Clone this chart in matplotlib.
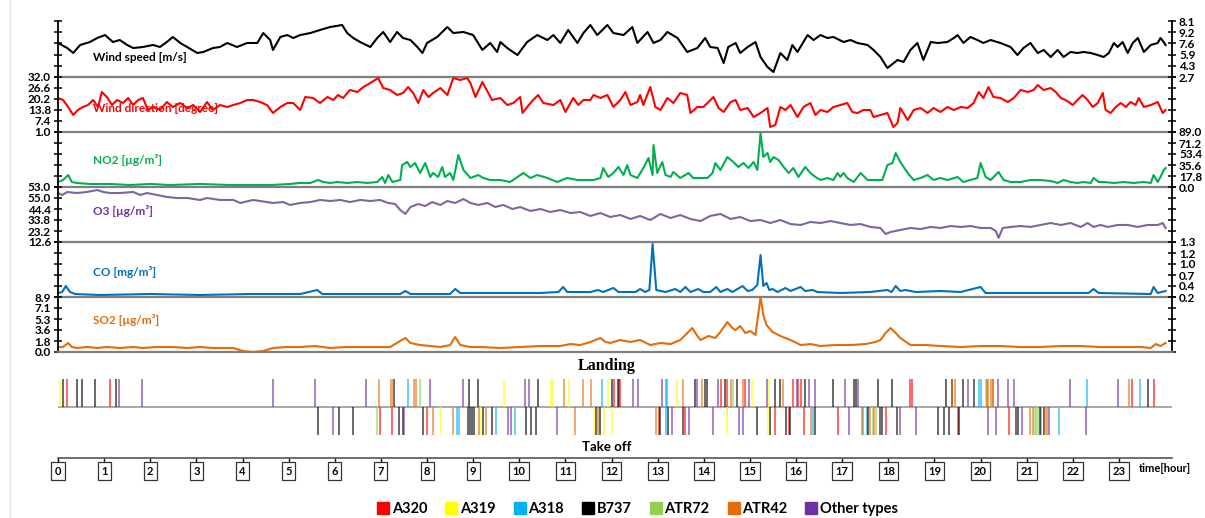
import numpy as np
import matplotlib.pyplot as plt
from matplotlib.lines import Line2D

plt.rcParams['font.family'] = ['Lato', 'DejaVu Sans']

# ---- time series (time in hours) ----
ws_time = [0.00, 0.20, 0.33, 0.48, 0.69, 0.85, 1.02, 1.19, 1.34, 1.50,
           1.63, 1.84, 2.06, 2.21, 2.36, 2.49, 2.65, 2.80, 3.02, 3.15,
           3.36, 3.51, 3.67, 3.88, 4.10, 4.32, 4.45, 4.60, 4.66, 4.82,
           4.97, 5.10, 5.25, 5.47, 5.68, 5.90, 6.16, 6.27, 6.40, 6.55,
           6.77, 6.92, 7.05, 7.20, 7.35, 7.48, 7.64, 7.79, 7.90, 8.00,
           8.22, 8.44, 8.57, 8.79, 9.00, 9.20, 9.37, 9.52, 9.59, 9.74,
           9.96, 10.17, 10.39, 10.61, 10.74, 10.89, 11.06, 11.26, 11.39, 11.54,
           11.69, 11.91, 12.04, 12.26, 12.45, 12.56, 12.78, 12.91, 13.06, 13.21,
           13.43, 13.64, 13.86, 14.03, 14.14, 14.30, 14.43, 14.53, 14.69, 14.79,
           14.95, 15.12, 15.23, 15.38, 15.51, 15.66, 15.81, 15.92, 16.03, 16.25,
           16.38, 16.53, 16.68, 16.81, 17.03, 17.18, 17.33, 17.55, 17.68, 17.83,
           17.98, 18.20, 18.33, 18.48, 18.63, 18.76, 18.92, 19.07, 19.28, 19.42,
           19.50, 19.63, 19.78, 19.93, 20.06, 20.22, 20.43, 20.65, 20.80, 20.93,
           21.08, 21.24, 21.37, 21.52, 21.67, 21.80, 21.95, 22.10, 22.23, 22.39,
           22.54, 22.67, 22.78, 22.89, 22.97, 23.08, 23.19, 23.30, 23.41, 23.54,
           23.69, 23.84, 23.90, 23.97, 24.01]
ws_val = [7.62, 6.89, 6.17, 7.33, 7.76, 8.34, 8.77, 7.76, 8.05, 7.33,
          6.89, 7.04, 7.33, 7.04, 7.76, 8.49, 7.62, 7.04, 6.17, 6.32,
          6.89, 7.04, 7.62, 7.04, 7.62, 7.62, 9.06, 8.05, 6.61, 8.49,
          8.77, 8.34, 8.77, 9.06, 9.50, 9.93, 10.22, 9.06, 8.34, 7.76,
          7.04, 8.34, 9.21, 7.76, 9.21, 8.34, 8.05, 7.04, 6.17, 7.62,
          8.49, 9.93, 9.06, 9.21, 8.77, 6.61, 7.62, 6.32, 7.76, 6.89,
          5.88, 7.76, 8.77, 8.05, 8.77, 7.62, 9.50, 7.62, 9.06, 10.22,
          8.77, 10.22, 9.06, 8.77, 9.93, 7.62, 9.21, 7.62, 8.05, 9.21,
          8.34, 6.32, 6.89, 8.34, 7.04, 6.89, 4.72, 7.04, 7.62, 6.17,
          7.04, 7.76, 5.59, 4.15, 3.42, 6.17, 5.16, 7.33, 6.32, 8.77,
          8.05, 8.77, 8.34, 8.49, 7.76, 8.05, 7.62, 7.33, 6.61, 5.59,
          4.00, 5.16, 4.87, 6.61, 7.62, 5.16, 7.76, 7.62, 7.76, 8.34,
          8.77, 7.62, 8.49, 8.05, 7.62, 8.05, 7.62, 7.04, 5.88, 6.89,
          7.62, 6.17, 6.61, 5.59, 6.61, 5.59, 6.32, 6.17, 6.32, 6.17,
          5.88, 5.59, 6.17, 7.62, 7.04, 7.76, 6.17, 7.62, 8.34, 6.32,
          7.33, 7.62, 8.34, 7.76, 7.33]

wd_time = [0.00, 0.11, 0.22, 0.33, 0.43, 0.54, 0.65, 0.76, 0.87, 0.95,
           1.06, 1.17, 1.28, 1.41, 1.52, 1.63, 1.74, 1.84, 1.95, 2.06,
           2.21, 2.36, 2.49, 2.65, 2.80, 2.93, 3.08, 3.23, 3.36, 3.51,
           3.67, 3.80, 3.95, 4.10, 4.23, 4.38, 4.53, 4.66, 4.82, 4.97,
           5.10, 5.25, 5.36, 5.53, 5.68, 5.84, 5.97, 6.07, 6.18, 6.33,
           6.49, 6.62, 6.77, 6.94, 7.05, 7.20, 7.35, 7.48, 7.59, 7.70,
           7.81, 7.92, 8.03, 8.13, 8.29, 8.44, 8.57, 8.72, 8.87, 8.94,
           9.05, 9.20, 9.33, 9.41, 9.59, 9.74, 9.87, 10.02, 10.07, 10.17,
           10.30, 10.41, 10.52, 10.74, 10.89, 11.00, 11.11, 11.17, 11.28, 11.39,
           11.54, 11.61, 11.76, 11.91, 12.04, 12.19, 12.30, 12.41, 12.56, 12.62,
           12.69, 12.84, 12.95, 13.06, 13.21, 13.34, 13.49, 13.64, 13.71, 13.86,
           13.99, 14.08, 14.21, 14.32, 14.43, 14.58, 14.69, 14.79, 14.95, 15.08,
           15.23, 15.38, 15.44, 15.55, 15.66, 15.77, 15.88, 16.03, 16.16, 16.31,
           16.42, 16.53, 16.68, 16.81, 16.96, 17.11, 17.22, 17.33, 17.46, 17.61,
           17.68, 17.83, 17.98, 18.11, 18.20, 18.26, 18.42, 18.55, 18.70, 18.85,
           18.98, 19.13, 19.28, 19.42, 19.57, 19.72, 19.85, 19.96, 20.06, 20.17,
           20.28, 20.43, 20.59, 20.72, 20.87, 21.02, 21.15, 21.24, 21.37, 21.52,
           21.63, 21.74, 21.84, 21.91, 22.00, 22.10, 22.21, 22.32, 22.43, 22.54,
           22.65, 22.71, 22.82, 22.93, 23.04, 23.15, 23.25, 23.36, 23.43, 23.54,
           23.69, 23.84, 23.95, 24.01]
wd_val = [20.78, 19.62, 15.55, 10.89, 13.80, 15.55, 16.71, 19.62, 15.55, 24.27,
          21.36, 16.71, 19.62, 17.87, 20.78, 16.71, 19.62, 20.78, 13.80, 15.55,
          13.80, 18.45, 15.55, 17.87, 14.96, 16.71, 12.64, 18.45, 13.80, 16.71,
          15.55, 16.71, 17.87, 19.62, 19.62, 18.45, 16.71, 12.05, 15.55, 17.87,
          17.87, 13.80, 21.36, 20.78, 17.87, 21.36, 19.62, 22.53, 20.78, 25.44,
          24.27, 27.18, 29.51, 32.42, 26.60, 25.44, 22.53, 23.69, 27.18, 23.69,
          17.87, 25.44, 21.36, 23.69, 26.60, 22.53, 32.42, 31.25, 32.42, 29.51,
          21.36, 30.09, 23.69, 19.62, 20.78, 16.71, 17.87, 21.36, 12.05, 15.55,
          19.62, 22.53, 17.87, 16.71, 19.62, 12.64, 17.87, 20.78, 16.71, 19.62,
          19.62, 22.53, 20.78, 22.53, 15.55, 19.62, 24.27, 16.71, 18.45, 22.53,
          16.71, 27.18, 15.55, 13.80, 20.78, 17.87, 23.69, 22.53, 12.05, 15.55,
          15.55, 17.87, 21.36, 14.96, 12.64, 18.45, 19.62, 13.80, 14.96, 9.73,
          12.05, 14.96, 3.91, 5.07, 15.55, 13.80, 16.71, 9.73, 15.55, 17.87,
          10.89, 13.80, 12.64, 15.55, 16.71, 17.87, 12.64, 12.05, 13.80, 13.80,
          9.73, 10.89, 12.05, 3.91, 6.24, 14.96, 7.98, 13.80, 14.96, 12.05,
          14.96, 12.64, 15.55, 13.80, 15.55, 14.96, 17.87, 24.27, 20.78, 27.18,
          21.36, 20.78, 18.45, 20.78, 25.44, 24.27, 25.44, 28.35, 25.44, 26.60,
          24.27, 20.78, 19.62, 18.45, 16.71, 19.62, 22.53, 19.62, 15.55, 17.87,
          23.69, 13.80, 12.05, 15.55, 17.87, 15.55, 18.45, 16.71, 20.78, 15.55,
          16.71, 18.45, 12.05, 13.80]

no2_time = [0.00, 0.11, 0.22, 0.30, 0.41, 0.69, 1.13, 1.56, 2.00, 2.43,
            3.08, 3.73, 4.16, 4.60, 5.03, 5.25, 5.47, 5.64, 5.75, 5.90,
            6.05, 6.27, 6.49, 6.70, 6.92, 7.03, 7.09, 7.16, 7.25, 7.42,
            7.46, 7.57, 7.64, 7.74, 7.85, 7.96, 8.07, 8.13, 8.24, 8.33,
            8.39, 8.50, 8.57, 8.68, 8.79, 8.94, 9.11, 9.22, 9.37, 9.59,
            9.80, 9.96, 10.09, 10.24, 10.39, 10.61, 10.82, 11.04, 11.26, 11.48,
            11.61, 11.76, 11.82, 11.93, 12.04, 12.15, 12.26, 12.34, 12.41, 12.56,
            12.69, 12.80, 12.89, 12.91, 12.99, 13.10, 13.17, 13.28, 13.34, 13.49,
            13.67, 13.77, 13.93, 14.08, 14.19, 14.25, 14.36, 14.51, 14.64, 14.75,
            14.86, 14.97, 15.08, 15.16, 15.23, 15.29, 15.38, 15.44, 15.51, 15.62,
            15.73, 15.84, 15.94, 16.05, 16.20, 16.31, 16.42, 16.53, 16.68, 16.81,
            16.90, 16.96, 17.03, 17.11, 17.25, 17.40, 17.55, 17.68, 17.87, 17.98,
            18.09, 18.16, 18.26, 18.42, 18.55, 18.70, 18.85, 18.98, 19.13, 19.28,
            19.50, 19.63, 19.78, 19.93, 20.00, 20.11, 20.22, 20.39, 20.50, 20.65,
            20.87, 21.08, 21.30, 21.52, 21.67, 21.80, 21.95, 22.10, 22.23, 22.39,
            22.45, 22.56, 22.67, 22.89, 23.10, 23.32, 23.54, 23.69, 23.75, 23.84,
            23.90, 23.97, 24.01]
no2_val = [8.1, 11.3, 19.4, 8.1, 6.5, 4.9, 4.9, 3.2, 4.9, 3.2,
           4.9, 3.2, 3.2, 3.2, 4.9, 6.5, 6.5, 11.3, 8.1, 6.5,
           8.1, 6.5, 8.1, 6.5, 8.1, 16.2, 6.5, 19.4, 8.1, 11.3,
           35.6, 40.5, 32.4, 38.8, 22.7, 38.8, 16.2, 22.7, 16.2, 32.4,
           16.2, 22.7, 11.3, 51.8, 27.5, 14.6, 19.4, 14.6, 11.3, 11.3,
           8.1, 16.2, 22.7, 14.6, 19.4, 14.6, 8.1, 14.6, 11.3, 11.3,
           11.3, 14.6, 30.7, 16.2, 22.7, 32.4, 19.4, 35.6, 19.4, 14.6,
           30.7, 46.9, 19.4, 68.0, 22.7, 40.5, 19.4, 16.2, 24.3, 14.6,
           22.7, 14.6, 14.6, 14.6, 22.7, 38.8, 27.5, 48.5, 40.5, 32.4,
           38.8, 30.7, 40.5, 27.5, 87.4, 48.5, 55.0, 40.5, 48.5, 43.7,
           32.4, 22.7, 30.7, 16.2, 32.4, 22.7, 16.2, 11.3, 14.6, 11.3,
           22.7, 16.2, 22.7, 14.6, 8.1, 22.7, 11.3, 11.3, 11.3, 35.6,
           38.8, 55.0, 40.5, 22.7, 11.3, 14.6, 19.4, 11.3, 14.6, 11.3,
           16.2, 8.1, 11.3, 14.6, 38.8, 16.2, 11.3, 24.3, 11.3, 8.1,
           8.1, 11.3, 11.3, 9.7, 6.5, 11.3, 8.1, 6.5, 8.1, 6.5,
           14.6, 8.1, 8.1, 6.5, 8.1, 6.5, 8.1, 6.5, 19.4, 8.1,
           16.2, 27.5, 30.7]

o3_time = [0.00, 0.09, 0.20, 0.41, 0.63, 0.85, 0.98, 1.13, 1.34, 1.63,
           1.78, 1.93, 2.15, 2.36, 2.58, 2.80, 3.08, 3.23, 3.51, 3.80,
           3.95, 4.23, 4.53, 4.66, 4.88, 5.03, 5.25, 5.47, 5.68, 5.90,
           6.12, 6.33, 6.55, 6.77, 6.98, 7.16, 7.31, 7.42, 7.53, 7.64,
           7.81, 7.96, 8.11, 8.29, 8.44, 8.61, 8.79, 8.94, 9.11, 9.31,
           9.48, 9.65, 9.85, 10.02, 10.24, 10.46, 10.67, 10.89, 11.11, 11.32,
           11.54, 11.76, 11.97, 12.19, 12.41, 12.62, 12.84, 13.06, 13.28, 13.49,
           13.71, 13.93, 14.14, 14.36, 14.58, 14.79, 15.01, 15.23, 15.44, 15.66,
           15.88, 16.10, 16.31, 16.53, 16.75, 16.96, 17.18, 17.40, 17.61, 17.83,
           17.94, 18.05, 18.26, 18.48, 18.70, 18.92, 19.13, 19.35, 19.57, 19.78,
           20.00, 20.22, 20.33, 20.39, 20.48, 20.65, 20.87, 21.08, 21.30, 21.52,
           21.74, 21.95, 22.17, 22.32, 22.45, 22.60, 22.76, 22.97, 23.19, 23.41,
           23.62, 23.84, 23.95, 24.01]
o3_val = [59.8, 57.9, 60.8, 59.8, 60.8, 62.7, 60.8, 59.8, 59.8, 60.8,
          57.9, 59.8, 57.9, 56.0, 55.0, 55.0, 53.1, 55.0, 53.1, 53.1,
          50.2, 53.1, 51.1, 50.2, 51.1, 48.3, 50.2, 51.1, 53.1, 52.1,
          53.1, 51.1, 53.1, 52.1, 53.1, 50.2, 49.2, 43.4, 39.6, 46.3,
          49.2, 47.3, 51.1, 48.3, 52.1, 50.2, 54.0, 50.2, 48.3, 50.2,
          46.3, 48.3, 44.4, 46.3, 42.5, 44.4, 41.5, 43.4, 40.5, 41.5,
          37.7, 40.5, 36.7, 38.6, 34.8, 37.7, 33.8, 39.6, 35.7, 38.6,
          34.8, 32.8, 37.7, 39.6, 34.8, 36.7, 32.8, 33.8, 30.9, 33.8,
          29.9, 29.0, 31.9, 30.9, 32.8, 30.9, 29.0, 29.9, 27.1, 26.1,
          20.3, 22.2, 24.2, 26.1, 25.1, 27.1, 26.1, 28.0, 27.1, 28.0,
          26.1, 26.1, 23.2, 16.5, 26.1, 27.1, 28.0, 27.1, 29.0, 30.9,
          29.0, 30.9, 27.1, 30.9, 27.1, 29.0, 27.1, 29.0, 29.0, 27.1,
          29.0, 29.0, 30.9, 26.1]

co_time = [0.00, 0.09, 0.17, 0.26, 0.37, 0.91, 2.00, 3.08, 4.16, 5.25,
           5.62, 5.73, 6.55, 7.42, 7.53, 7.64, 8.50, 8.61, 8.72, 9.59,
           10.46, 10.85, 10.95, 11.04, 11.54, 11.71, 11.82, 12.04, 12.15, 12.52,
           12.62, 12.73, 12.82, 12.89, 12.97, 13.17, 13.38, 13.49, 13.60, 13.71,
           13.88, 13.99, 14.14, 14.27, 14.36, 14.51, 14.62, 14.84, 14.95, 15.05,
           15.16, 15.23, 15.29, 15.36, 15.42, 15.49, 15.60, 15.77, 15.88, 16.10,
           16.20, 16.36, 16.46, 16.96, 17.61, 17.98, 18.07, 18.16, 18.26, 18.37,
           18.59, 19.13, 19.57, 20.00, 20.11, 20.43, 21.52, 22.34, 22.45, 22.56,
           23.69, 23.75, 23.84, 24.01]
co_val = [0.28, 0.30, 0.42, 0.30, 0.26, 0.24, 0.26, 0.24, 0.26, 0.26,
          0.34, 0.26, 0.26, 0.26, 0.32, 0.26, 0.26, 0.36, 0.28, 0.28,
          0.28, 0.30, 0.40, 0.30, 0.30, 0.34, 0.30, 0.38, 0.30, 0.30,
          0.36, 0.30, 0.34, 1.26, 0.34, 0.30, 0.36, 0.30, 0.40, 0.30,
          0.36, 0.30, 0.30, 0.40, 0.30, 0.36, 0.30, 0.42, 0.32, 0.34,
          0.44, 1.04, 0.42, 0.48, 0.34, 0.36, 0.30, 0.38, 0.32, 0.40,
          0.32, 0.34, 0.30, 0.28, 0.30, 0.34, 0.30, 0.42, 0.32, 0.34,
          0.30, 0.32, 0.30, 0.40, 0.28, 0.28, 0.28, 0.28, 0.36, 0.28,
          0.26, 0.40, 0.28, 0.32]

so2_time = [0.00, 0.11, 0.22, 0.30, 0.41, 0.63, 0.85, 1.06, 1.34, 1.63,
            1.84, 2.15, 2.49, 2.80, 3.08, 3.36, 3.80, 4.01, 4.23, 4.45,
            4.66, 4.97, 5.25, 5.57, 5.90, 6.23, 6.55, 6.88, 7.20, 7.38,
            7.53, 7.64, 7.85, 8.07, 8.29, 8.50, 8.61, 8.72, 8.94, 9.15,
            9.59, 10.02, 10.46, 10.89, 11.11, 11.32, 11.54, 11.76, 11.87, 11.97,
            12.19, 12.41, 12.62, 12.84, 13.06, 13.28, 13.49, 13.60, 13.75, 13.86,
            13.93, 14.10, 14.25, 14.36, 14.51, 14.62, 14.69, 14.79, 14.90, 15.01,
            15.12, 15.23, 15.29, 15.36, 15.49, 15.66, 15.88, 16.10, 16.31, 16.53,
            16.85, 17.18, 17.51, 17.72, 17.83, 17.94, 18.05, 18.16, 18.26, 18.48,
            18.81, 19.13, 19.57, 20.00, 20.43, 20.87, 21.30, 21.74, 22.17, 22.60,
            23.04, 23.47, 23.69, 23.80, 23.90, 24.01]
so2_val = [0.81, 0.81, 1.46, 0.81, 0.65, 0.81, 0.65, 0.81, 0.65, 0.81,
           0.65, 0.81, 0.81, 0.65, 0.81, 0.65, 0.65, 0.16, 0.00, 0.16,
           0.65, 0.81, 0.81, 0.97, 0.65, 0.81, 0.81, 0.81, 0.81, 1.62,
           2.27, 1.46, 1.13, 0.97, 0.81, 1.13, 2.43, 1.13, 0.81, 0.81,
           0.65, 0.81, 0.97, 0.97, 1.29, 1.13, 1.62, 2.27, 1.62, 1.46,
           1.94, 1.62, 1.94, 1.13, 1.46, 1.29, 1.94, 2.75, 3.88, 2.59,
           1.94, 2.59, 2.27, 3.24, 4.85, 3.88, 3.56, 4.21, 3.07, 3.40,
           2.75, 8.90, 5.99, 4.37, 3.24, 2.59, 1.94, 1.13, 1.29, 0.97,
           1.13, 1.13, 1.29, 1.62, 1.94, 3.07, 3.88, 3.07, 2.27, 1.13,
           1.13, 0.97, 0.81, 0.97, 0.97, 0.81, 0.81, 0.97, 0.97, 0.81,
           0.81, 0.81, 0.65, 1.29, 0.97, 1.46]

# ---- aircraft movements (hour, type code) ----
# R=A320 Y=A319 B=A318 K=B737 G=ATR72 O=ATR42 P=Other types
land_time = [0.04, 0.11, 0.20, 0.41, 0.52, 0.80, 1.13, 1.26, 1.32, 1.82,
             4.66, 5.57, 6.68, 6.96, 7.22, 7.27, 7.29, 7.59, 7.72, 7.77,
             7.85, 8.07, 8.79, 8.92, 9.11, 9.67, 10.13, 10.20, 10.41, 10.69,
             10.74, 10.98, 11.08, 11.39, 11.56, 11.80, 11.93, 12.02, 12.06, 12.13,
             12.17, 12.19, 12.47, 12.58, 13.10, 13.17, 13.21, 13.41, 13.54, 13.80,
             13.86, 13.97, 14.03, 14.08, 14.30, 14.38, 14.45, 14.51, 14.58, 14.64,
             14.71, 14.84, 14.90, 14.97, 15.05, 15.38, 15.42, 15.55, 15.66, 15.71,
             15.94, 16.01, 16.05, 16.10, 16.20, 16.27, 16.42, 16.81, 17.07, 17.25,
             17.29, 17.35, 17.77, 18.07, 18.46, 18.51, 19.26, 19.37, 19.39, 19.44,
             19.61, 19.72, 19.85, 19.96, 20.00, 20.11, 20.15, 20.17, 20.22, 20.26,
             20.28, 20.37, 20.59, 20.72, 21.93, 22.30, 22.97, 23.21, 23.28, 23.45,
             23.62, 23.75]
land_type = list("YKRKKKRKPP" "PPPOOOKBOO" "GPPKKYPPKY" "YOYOOBYKRK"
                 "RRPPPBBYOK" "POKKPRKROG" "KORPYPYKKO" "RPRRKPPKPK"
                 "KPKKRRKKOO" "KPKBBGOOOO" "OPPPPBPORB" "KR")

to_time = [5.64, 5.97, 6.10, 6.40, 6.92, 6.98, 7.25, 7.40, 7.48, 7.51,
           7.92, 8.00, 8.13, 8.31, 8.57, 8.66, 8.70, 8.89, 8.94, 8.98,
           9.02, 9.13, 9.15, 9.22, 9.28, 9.41, 9.50, 9.76, 9.83, 9.91,
           10.15, 10.26, 10.37, 10.82, 11.21, 11.61, 11.67, 11.71, 11.76, 11.84,
           12.02, 12.97, 13.02, 13.06, 13.17, 13.23, 13.32, 13.54, 13.60, 13.69,
           14.19, 14.51, 14.77, 14.84, 15.16, 15.40, 15.44, 15.55, 15.79, 15.84,
           15.86, 16.18, 16.33, 16.36, 16.40, 16.90, 17.14, 17.44, 17.46, 17.53,
           17.57, 17.61, 17.66, 17.70, 17.74, 17.81, 17.87, 17.94, 18.18, 18.26,
           18.59, 19.07, 19.20, 19.31, 19.50, 19.54, 20.17, 20.33, 20.61, 20.76,
           20.82, 20.89, 21.08, 21.13, 21.17, 21.21, 21.24, 21.28, 21.32, 21.37,
           21.39, 21.43, 21.48, 21.69, 22.28]
to_type = list("KPKKGRRKKP" "KROYOBBKKK" "KOYKOKBPPB" "KKKPOYKOKY"
               "YORKBKPKRP" "PYPPKYKRKR" "KROBKRPOBB" "KOGOGKKRKP"
               "PKKKRKPPRK" "KPOOGGGKBK" "OOPBP")

type_names = {'R': 'A320', 'Y': 'A319', 'B': 'A318', 'K': 'B737',
              'G': 'ATR72', 'O': 'ATR42', 'P': 'Other types'}
type_colors = {'R': '#FF0000', 'Y': '#FFFF00', 'B': '#00B0F0', 'K': '#000000',
               'G': '#92D050', 'O': '#E46C0A', 'P': '#7030A0'}

hour_ticks = list(range(24))

# panel definitions: data, colour, label, y-range, tick labels, labelled side
panels = [
    (ws_time, ws_val, '#000000', '#000000', 'Wind speed [m/s]', (2.7, 10.8),
     ['2.7', '4.3', '5.9', '7.6', '9.2', '8.1'], 'right', 0.34),
    (wd_time, wd_val, '#FF0000', '#FF0000', 'Wind direction [degree]', (1.0, 33.0),
     ['1.0', '7.4', '13.8', '20.2', '26.6', '32.0'], 'left', 0.42),
    (no2_time, no2_val, '#00B050', '#00B050', 'NO2 [µg/m³]', (0.0, 89.0),
     ['0.0', '17.8', '35.6', '53.4', '71.2', '89.0'], 'right', 0.49),
    (o3_time, o3_val, '#8064A2', '#7030A0', 'O3 [µg/m³]', (12.6, 65.6),
     ['12.6', '23.2', '33.8', '44.4', '55.0', '53.0'], 'left', 0.56),
    (co_time, co_val, '#0070C0', '#0070C0', 'CO [mg/m³]', (0.2, 1.3),
     ['0.2', '0.4', '0.7', '1.0', '1.2', '1.3'], 'right', 0.45),
    (so2_time, so2_val, '#E46C0A', '#E46C0A', 'SO2 [µg/m³]', (0.0, 8.9),
     ['0.0', '1.8', '3.6', '5.3', '7.1', '8.9'], 'left', 0.58),
]

W, H = 1205, 518
X0, X1 = 58, 1172
XMAX = 24.15
bounds = [21, 77, 132, 187, 242, 297, 352]

fig = plt.figure(figsize=(W / 100, H / 100), dpi=100)
fig.add_artist(Line2D([10 / W, 10 / W], [0, 1], color='#e4e4e4', lw=1))

for i, (t, v, lc, tc, label, lim, tl, side, ly) in enumerate(panels):
    top, bot = bounds[i], bounds[i + 1]
    ax = fig.add_axes([X0 / W, 1 - bot / H, (X1 - X0) / W, (bot - top) / H])
    ax.patch.set_alpha(0)
    ax.plot(t, v, color=lc, lw=1.5, clip_on=False)
    ax.set_xlim(0, XMAX)
    ax.set_ylim(*lim)
    ax.set_xticks([])
    ax.set_yticks(np.linspace(lim[0], lim[1], 6))
    ax.set_yticklabels(tl, fontweight='bold')
    ax.tick_params(axis='y', direction='inout', length=6, width=1.1,
                   left=True, right=True,
                   labelleft=(side == 'left'), labelright=(side == 'right'),
                   labelsize=8.5, pad=2)
    ax.spines['top'].set_visible(False)
    ax.spines['bottom'].set_color('#7f7f7f')
    ax.spines['bottom'].set_linewidth(1.6)
    for s in ['left', 'right']:
        ax.spines[s].set_linewidth(1.3)
    ax.text(0.0314, ly, label, transform=ax.transAxes, color=tc,
            fontsize=8.5, fontweight='bold', va='center', ha='left')

# landing / take-off strip
ax_ev = fig.add_axes([X0 / W, 1 - 435 / H, (X1 - X0) / W, (435 - 379) / H])
ax_ev.set_xlim(0, XMAX)
ax_ev.set_ylim(-1, 1)
ax_ev.axis('off')
ax_ev.axhline(0, color='#999999', lw=1.2)
for code, col in type_colors.items():
    lt = [h for h, c in zip(land_time, land_type) if c == code]
    tt = [h for h, c in zip(to_time, to_type) if c == code]
    ax_ev.vlines(lt, 0, 1, color=col, lw=1.1, alpha=0.75)
    ax_ev.vlines(tt, -1, 0, color=col, lw=1.1, alpha=0.75)

fig.text(607 / W, 1 - 366 / H, 'Landing', family='Liberation Serif',
         fontweight='bold', fontsize=11.5, ha='center', va='center')
fig.text(607 / W, 1 - 447 / H, 'Take off', fontweight='bold', fontsize=9.5,
         ha='center', va='center')

# time axis with boxed hour labels
ax_t = fig.add_axes([X0 / W, 1 - 458 / H, (X1 - X0) / W, 0.001])
ax_t.set_xlim(0, XMAX)
for s in ['top', 'left', 'right']:
    ax_t.spines[s].set_visible(False)
ax_t.spines['bottom'].set_color('#555555')
ax_t.spines['bottom'].set_linewidth(1.2)
ax_t.set_yticks([])
ax_t.set_xticks(hour_ticks)
ax_t.set_xticklabels([str(h) for h in hour_ticks], fontweight='bold', fontsize=8)
ax_t.tick_params(axis='x', direction='out', length=4, width=1, pad=1.5)
for lab in ax_t.get_xticklabels():
    lab.set_bbox(dict(boxstyle='square,pad=0.3', fc='white', ec='#333333', lw=0.9))
fig.text(1139 / W, 1 - 469 / H, 'time[hour]', fontweight='bold', fontsize=8,
         ha='left', va='center')

# legend
handles = [Line2D([], [], marker='s', linestyle='', markersize=9,
                  color=type_colors[c]) for c in 'RYBKGOP']
labels = [type_names[c] for c in 'RYBKGOP']
fig.legend(handles, labels, loc='center', ncol=7, frameon=False,
           bbox_to_anchor=(638 / W, 1 - 509 / H), handlelength=0.7,
           handletextpad=0.25, columnspacing=1.3,
           prop={'weight': 'bold', 'size': 10.5})

fig.savefig('out.png', dpi=100)
